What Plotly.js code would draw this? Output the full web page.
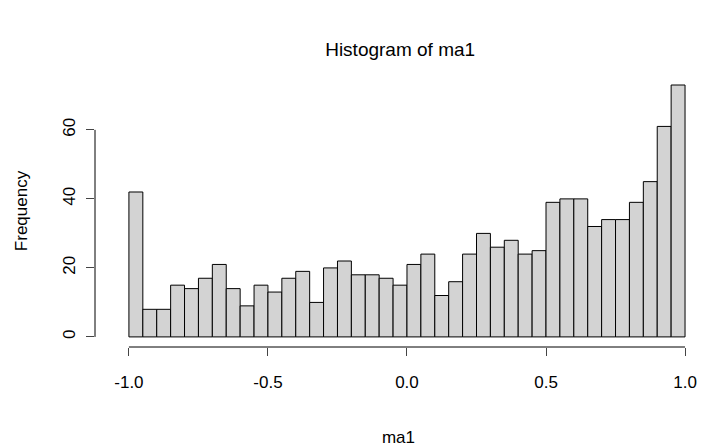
<!DOCTYPE html><html><head><script src="https://cdn.plot.ly/plotly-3.0.1.min.js"></script></head><body style="margin:0">
<div id="c" style="width:702px;height:447px"></div>
<script>
const binStarts=[-1,-0.95,-0.9,-0.85,-0.8,-0.75,-0.7,-0.65,-0.6,-0.55,-0.5,-0.45,-0.4,-0.35,-0.3,-0.25,-0.2,-0.15,-0.1,-0.05,0,0.05,0.1,0.15,0.2,0.25,0.3,0.35,0.4,0.45,0.5,0.55,0.6,0.65,0.7,0.75,0.8,0.85,0.9,0.95];
const counts=[42,8,8,15,14,17,21,14,9,15,13,17,19,10,20,22,18,18,17,15,21,24,12,16,24,30,26,28,24,25,39,40,40,32,34,34,39,45,61,73];
const xTicks=[-1,-0.5,0,0.5,1];
const xTickText=["-1.0","-0.5","0.0","0.5","1.0"];
const yTicks=[0,20,40,60];
const f={family:"Liberation Sans, Arial, sans-serif",size:17,color:"#000"};
Plotly.newPlot("c",[{type:"bar",x:binStarts.map(v=>v+0.025),y:counts,width:0.05,
marker:{color:"#d3d3d3",line:{color:"#000",width:1}}}],{
width:702,height:447,margin:{l:95,r:0,t:75,b:100},paper_bgcolor:"#fff",plot_bgcolor:"#fff",
font:f,showlegend:false,
title:{text:"Histogram of ma1",x:0.57,xanchor:"center",y:0.905,font:{...f,size:19}},
xaxis:{range:[-1.122,1.061],tickvals:xTicks,ticktext:xTickText,ticks:"outside",ticklen:8,showgrid:false,zeroline:false,showline:false,tickfont:f,ticklabelstandoff:12,
title:{text:"ma1",font:f,standoff:40}},
yaxis:{range:[-2.92,75.9],tickvals:yTicks,ticks:"outside",ticklen:8,showgrid:false,zeroline:false,showline:false,tickangle:-90,tickfont:f,ticklabelstandoff:4,
title:{text:"Frequency",font:f,standoff:28}},
shapes:[{type:"line",xref:"x",yref:"paper",x0:-1,x1:1,y0:0,y1:0,line:{color:"#000",width:1}},
{type:"line",xref:"paper",yref:"y",x0:0,x1:0,y0:0,y1:60,line:{color:"#000",width:1}}]
},{displayModeBar:false});
</script></body></html>
